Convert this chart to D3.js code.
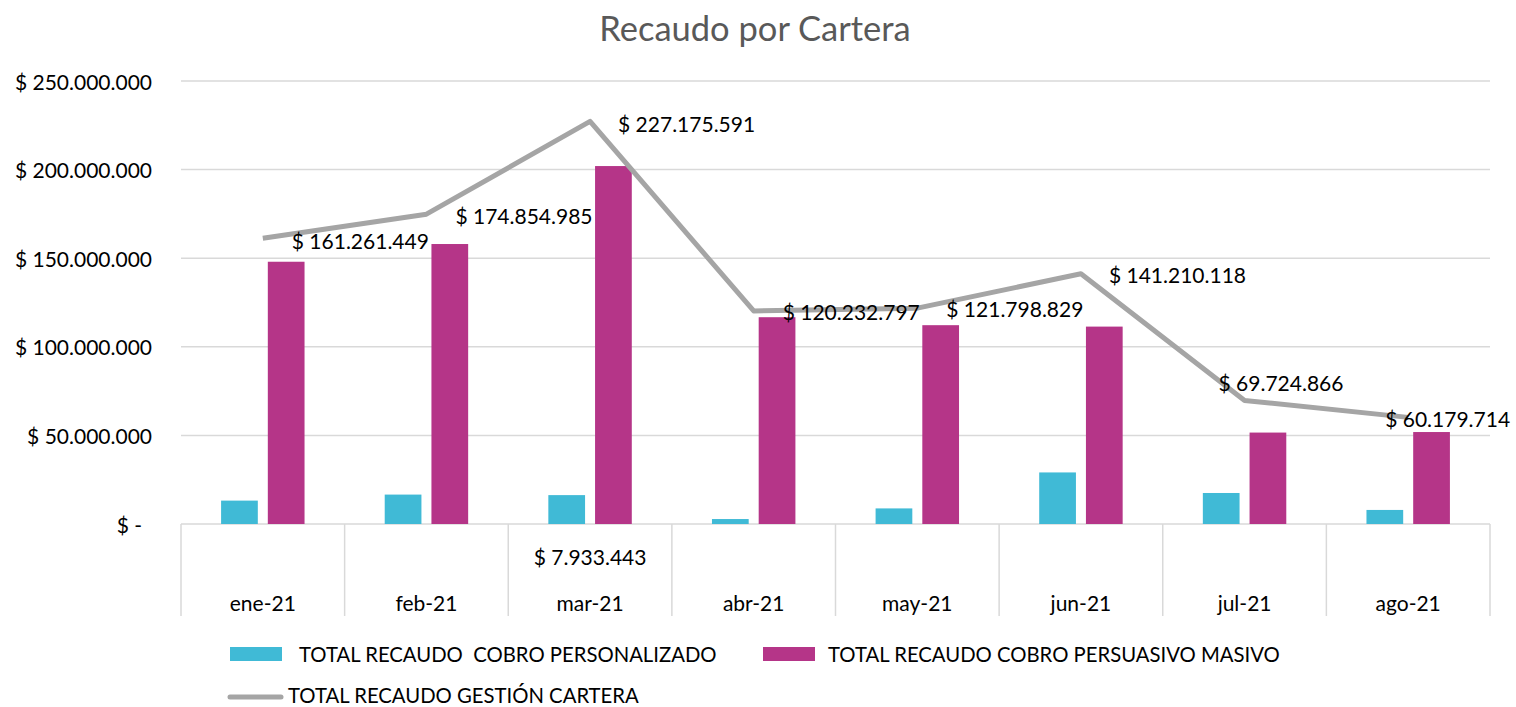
<!DOCTYPE html>
<html>
<head>
<meta charset="utf-8">
<title>Recaudo por Cartera</title>
<script src="https://d3js.org/d3.v7.min.js"></script>
<style>
  body { margin: 0; background: #fff; }
  svg { font-family: Lato, "Open Sans", sans-serif; }
  .grid line { stroke: #d9d9d9; stroke-width: 1.5; }
</style>
</head>
<body>
<svg id="chart" width="1516" height="707"></svg>
<script>
// data
var meses = ["ene-21", "feb-21", "mar-21", "abr-21", "may-21", "jun-21", "jul-21", "ago-21"];
var personalizado = [13200000, 16600000, 16300000, 2800000, 8800000, 29100000, 17500000, 7933443];
var masivo = [148000000, 158000000, 202000000, 116700000, 112200000, 111400000, 51600000, 51900000];
var gestion = [161261449, 174854985, 227175591, 120232797, 121798829, 141210118, 69724866, 60179714];
var yTicks = [0, 50000000, 100000000, 150000000, 200000000, 250000000];
var series = ["TOTAL RECAUDO  COBRO PERSONALIZADO", "TOTAL RECAUDO COBRO PERSUASIVO MASIVO", "TOTAL RECAUDO GESTIÓN CARTERA"];
var colores = ["#40bad6", "#b53588", "#a5a5a5"];

var svg = d3.select("#chart");
var plotLeft = 181, plotRight = 1490, plotTop = 81, plotBottom = 524;

var loc = d3.formatLocale({ decimal: ",", thousands: ".", grouping: [3], currency: ["$ ", ""] });
var fmt = loc.format("$,.0f");

var x0 = d3.scaleBand().domain(meses).range([plotLeft, plotRight]);
var x1 = d3.scaleBand().domain([0, 1]).range([0, x0.bandwidth()]).paddingInner(0.214).paddingOuter(0.858);
var y = d3.scaleLinear().domain([0, 250000000]).range([plotBottom, plotTop]);

// title
svg.append("text")
  .attr("x", 755).attr("y", 27)
  .attr("text-anchor", "middle").attr("dominant-baseline", "central")
  .attr("font-size", 34.5).attr("fill", "#595959")
  .text("Recaudo por Cartera");

// gridlines
svg.append("g").attr("class", "grid")
  .selectAll("line").data(yTicks).enter().append("line")
  .attr("x1", plotLeft).attr("x2", plotRight)
  .attr("y1", function(d){ return y(d) }).attr("y2", function(d){ return y(d) });

// y labels
svg.append("g").selectAll("text").data(yTicks).enter().append("text")
  .attr("x", function(d){ return d === 0 ? 142 : 152 })
  .attr("y", function(d){ return y(d) })
  .attr("text-anchor", "end").attr("dominant-baseline", "central")
  .attr("font-size", 21).attr("fill", "#000")
  .text(function(d){ return d === 0 ? "$ -" : fmt(d) });

// category axis boxes
var seps = meses.map(function(m){ return x0(m) }).concat([plotRight]);
svg.append("g").selectAll("line").data(seps).enter().append("line")
  .attr("x1", function(d){ return d }).attr("x2", function(d){ return d })
  .attr("y1", plotBottom).attr("y2", 616)
  .attr("stroke", "#d9d9d9").attr("stroke-width", 1.5);

svg.append("g").selectAll("text").data(meses).enter().append("text")
  .attr("x", function(d){ return x0(d) + x0.bandwidth() / 2 })
  .attr("y", 602)
  .attr("text-anchor", "middle").attr("dominant-baseline", "central")
  .attr("font-size", 21).attr("fill", "#000")
  .text(function(d){ return d });

// bars
var barData = [personalizado, masivo];
barData.forEach(function(vals, s) {
  svg.append("g").selectAll("rect").data(vals).enter().append("rect")
    .attr("x", function(d, i){ return x0(meses[i]) + x1(s) })
    .attr("width", x1.bandwidth())
    .attr("y", function(d){ return y(d) })
    .attr("height", function(d){ return plotBottom - y(d) })
    .attr("fill", colores[s]);
});

// line
var line = d3.line()
  .x(function(d, i){ return x0(meses[i]) + x0.bandwidth() / 2 })
  .y(function(d){ return y(d) });

svg.append("path").datum(gestion)
  .attr("d", line)
  .attr("fill", "none").attr("stroke", colores[2])
  .attr("stroke-width", 5).attr("stroke-linejoin", "round");

// line labels, most sit right of the point, the last two were moved by hand
var nudge = [[29, 2], [29, 1], [28, 2], [29, 1], [29, 0], [28, 1], [-26, -18], [-23, 1]];
svg.append("g").selectAll("text").data(gestion).enter().append("text")
  .attr("x", function(d, i){ return x0(meses[i]) + x0.bandwidth() / 2 + nudge[i][0] })
  .attr("y", function(d, i){ return y(d) + nudge[i][1] })
  .attr("dominant-baseline", "central")
  .attr("font-size", 21).attr("fill", "#000")
  .text(function(d){ return fmt(d) });

// stray label of the personalizado series (ago) under mar
svg.append("text")
  .attr("x", x0("mar-21") + x0.bandwidth() / 2).attr("y", 556)
  .attr("text-anchor", "middle").attr("dominant-baseline", "central")
  .attr("font-size", 21).attr("fill", "#000")
  .text(fmt(personalizado[7]));

// legend
var leg = svg.append("g").attr("font-size", 20.3);
leg.append("rect").attr("x", 230).attr("y", 647).attr("width", 52).attr("height", 14).attr("fill", colores[0]);
leg.append("text").attr("x", 299).attr("y", 654).attr("dominant-baseline", "central")
  .style("white-space", "pre").text(series[0]);
leg.append("rect").attr("x", 763).attr("y", 647).attr("width", 52).attr("height", 14).attr("fill", colores[1]);
leg.append("text").attr("x", 828).attr("y", 654).attr("dominant-baseline", "central").text(series[1]);
leg.append("line").attr("x1", 230).attr("x2", 281).attr("y1", 697).attr("y2", 697)
  .attr("stroke", colores[2]).attr("stroke-width", 5).attr("stroke-linecap", "round");
leg.append("text").attr("x", 288).attr("y", 695).attr("dominant-baseline", "central").text(series[2]);
</script>
</body>
</html>
